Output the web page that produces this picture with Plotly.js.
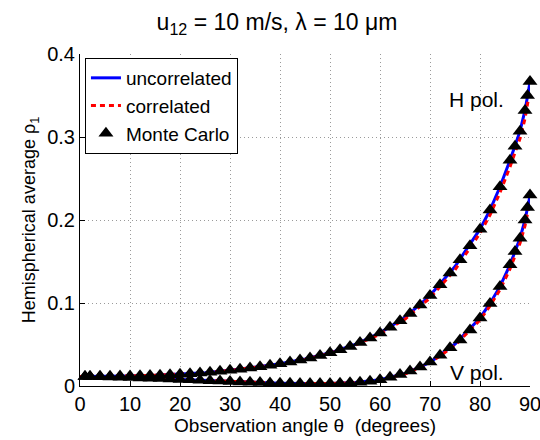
<!DOCTYPE html>
<html>
<head>
<meta charset="utf-8">
<script src="https://cdn.plot.ly/plotly-3.0.1.min.js"></script>
<style>html,body{margin:0;padding:0;background:#fff;}#plot{width:540px;height:440px;}</style>
</head>
<body>
<div id="plot"></div>
<script>
// Continuous curves (uncorrelated / correlated)
const lineAngles = [0,5,10,15,20,25,30,35,40,45,50,55,60,65,70,75,80,82,84,86,87,88,89,89.5,90];
const hUncorrelated = [0.0115,0.0116,0.0121,0.0129,0.0142,0.0161,0.0189,0.0224,0.0268,0.0325,0.0400,0.0500,0.0640,0.0825,0.109,0.144,0.189,0.212,0.240,0.272,0.289,0.307,0.332,0.350,0.366];
const hCorrelated   = [0.0115,0.0116,0.0121,0.0129,0.0141,0.0160,0.0187,0.0221,0.0264,0.0320,0.0393,0.0490,0.0625,0.0805,0.106,0.140,0.184,0.206,0.233,0.264,0.280,0.298,0.322,0.340,0.357];
const vUncorrelated = [0.0115,0.0110,0.0101,0.0091,0.0079,0.0066,0.0054,0.0043,0.0034,0.0029,0.0030,0.0042,0.0075,0.0150,0.0285,0.0505,0.0820,0.0995,0.120,0.146,0.162,0.178,0.200,0.215,0.229];
const vCorrelated   = [0.0115,0.0110,0.0101,0.0091,0.0079,0.0066,0.0054,0.0043,0.0034,0.0029,0.0029,0.0040,0.0072,0.0145,0.0277,0.0490,0.0795,0.0965,0.116,0.141,0.157,0.172,0.193,0.208,0.222];

// Monte Carlo points
const mcAngles = [1,2,4,6,8,10,12,14,16,18,20,22,24,26,28,30,32,34,36,38,40,42,44,46,48,50,52,54,56,58,60,62,64,66,68,70,72,74,76,78,80,82,84,86,87,88,89,89.5,90];
const hMonteCarlo = [0.0115,0.0115,0.0116,0.0117,0.0119,0.0121,0.0124,0.0127,0.0131,0.0136,0.0142,0.0149,0.0157,0.0166,0.0177,0.0189,0.0202,0.0216,0.0232,0.0249,0.0268,0.0289,0.0312,0.0338,0.0367,0.0400,0.0436,0.0477,0.0524,0.0578,0.0640,0.0708,0.0785,0.0872,0.0975,0.109,0.122,0.136,0.152,0.169,0.189,0.212,0.240,0.272,0.289,0.307,0.332,0.350,0.367];
const vMonteCarlo = [0.0115,0.0114,0.0111,0.0108,0.0105,0.0101,0.0097,0.0093,0.0089,0.0084,0.0079,0.0074,0.0069,0.0064,0.0059,0.0054,0.0049,0.0045,0.0041,0.0037,0.0034,0.0032,0.0030,0.0029,0.0029,0.0030,0.0033,0.0038,0.0046,0.0058,0.0075,0.0105,0.0140,0.0180,0.0230,0.0290,0.0370,0.0460,0.0555,0.0675,0.0820,0.0995,0.120,0.146,0.162,0.178,0.200,0.215,0.230];

const xTicks = [0,10,20,30,40,50,60,70,80,90];
const yTicks = [0,0.1,0.2,0.3,0.4];
const yTickLabels = ['0','0.1','0.2','0.3','0.4'];

const FONT = 'Liberation Sans, Arial, Helvetica, sans-serif';
const blueLine = {color:'#0000ff', width:3};
const redLine = {color:'#ff0000', width:3, dash:'5px,4px'};
const tri = {symbol:'triangle-up', size:13, color:'#000000', line:{width:0}};

const traces = [
  {x:lineAngles, y:hUncorrelated, mode:'lines', line:blueLine, name:'uncorrelated', cliponaxis:false},
  {x:lineAngles, y:vUncorrelated, mode:'lines', line:blueLine, name:'uncorrelated', showlegend:false, cliponaxis:false},
  {x:lineAngles, y:hCorrelated, mode:'lines', line:redLine, name:'correlated', cliponaxis:false},
  {x:lineAngles, y:vCorrelated, mode:'lines', line:redLine, name:'correlated', showlegend:false, cliponaxis:false},
  {x:mcAngles, y:hMonteCarlo, mode:'markers', marker:tri, name:'Monte Carlo', cliponaxis:false},
  {x:mcAngles, y:vMonteCarlo, mode:'markers', marker:tri, name:'Monte Carlo', showlegend:false, cliponaxis:false}
];

const layout = {
  width:540, height:440,
  margin:{l:80, r:10, t:54, b:54},
  paper_bgcolor:'#ffffff', plot_bgcolor:'#ffffff',
  font:{family:FONT, size:19, color:'#000'},
  title:{text:'u<sub>12</sub> = 10 m/s, λ = 10 μm', x:0.513, xref:'container', xanchor:'center', y:1-22/440, yref:'container', yanchor:'middle', font:{family:FONT, size:23, color:'#000'}},
  xaxis:{range:[0,90], tickvals:xTicks, ticktext:xTicks.map(String), ticks:'inside', ticklen:5, tickcolor:'#000',
         ticklabeloverflow:'allow',
         showline:true, linecolor:'#000', linewidth:1, mirror:false, zeroline:false,
         showgrid:true, gridcolor:'#9a9a9a', gridwidth:1, griddash:'1px,3px',
         tickfont:{family:FONT, size:20}, title:{text:'Observation angle θ \u00a0(degrees)', font:{family:FONT, size:19}, standoff:2}},
  yaxis:{range:[0,0.4], tickvals:yTicks, ticktext:yTickLabels, ticks:'inside', ticklen:5, tickcolor:'#000',
         ticklabeloverflow:'allow',
         showline:true, linecolor:'#000', linewidth:1, mirror:false, zeroline:false,
         showgrid:true, gridcolor:'#9a9a9a', gridwidth:1, griddash:'1px,3px',
         tickfont:{family:FONT, size:20}, title:{text:'Hemispherical average ρ<sub>1</sub>', font:{family:FONT, size:18}, standoff:6}},
  legend:{x:0.011, y:0.988, xanchor:'left', yanchor:'top', bgcolor:'#ffffff', bordercolor:'#000', borderwidth:1,
          font:{family:FONT, size:19}, tracegroupgap:0, entrywidth:128, entrywidthmode:'pixels'},
  showlegend:true,
  annotations:[
    {x:79.3, y:0.345, xref:'x', yref:'y', text:'H pol.', showarrow:false, font:{family:FONT, size:21}},
    {x:79.3, y:0.0157, xref:'x', yref:'y', text:'V pol.', showarrow:false, font:{family:FONT, size:21}}
  ]
};

Plotly.newPlot('plot', traces, layout, {displayModeBar:false, staticPlot:true});
</script>
</body>
</html>
